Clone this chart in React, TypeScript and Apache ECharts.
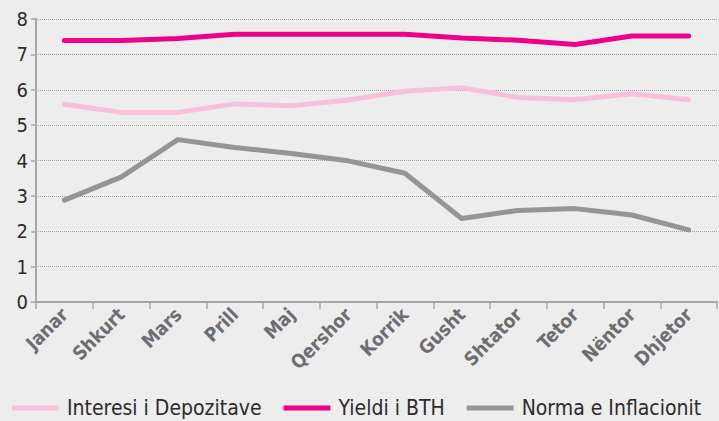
import React, { useEffect, useRef } from "react";
import * as echarts from "echarts";

const months = ["Janar", "Shkurt", "Mars", "Prill", "Maj", "Qershor", "Korrik", "Gusht", "Shtator", "Tetor", "Nëntor", "Dhjetor"];
const interesi = [5.59, 5.36, 5.36, 5.6, 5.55, 5.71, 5.96, 6.06, 5.78, 5.72, 5.89, 5.72];
const yieldi = [7.39, 7.39, 7.45, 7.57, 7.57, 7.57, 7.57, 7.46, 7.4, 7.28, 7.52, 7.52];
const inflacioni = [2.88, 3.53, 4.59, 4.37, 4.2, 3.99, 3.64, 2.36, 2.59, 2.64, 2.46, 2.04];
const yTicks = { min: 0, max: 8, interval: 1 };

const FONT = "DejaVu Sans Condensed";

export default function App() {
  const ref = useRef<HTMLDivElement>(null);
  useEffect(() => {
    if (!ref.current) return;
    const chart = echarts.init(ref.current, null, { renderer: "svg" });
    const lineSeries = (name: string, data: number[], color: string) => ({
      name,
      type: "line",
      data,
      symbol: "none",
      lineStyle: { color, width: 5, cap: "round", join: "round" },
      itemStyle: { color },
    });
    chart.setOption({
      animation: false,
      backgroundColor: "#EDEDED",
      textStyle: { fontFamily: FONT },
      grid: { left: 36, right: 2, top: 19, bottom: 119, containLabel: false },
      legend: {
        left: 12,
        top: 397,
        padding: 0,
        icon: "rect",
        itemWidth: 47,
        itemHeight: 5,
        itemGap: 22,
        textStyle: { fontFamily: FONT, fontSize: 21, lineHeight: 22, color: "#2B2B2B", padding: [0, 0, 0, 3] },
        data: ["Interesi i Depozitave", "Yieldi i BTH", "Norma e Inflacionit"],
      },
      xAxis: {
        type: "category",
        data: months,
        boundaryGap: true,
        axisLine: { show: true, lineStyle: { color: "#A6A6A6", width: 2 } },
        axisTick: { show: true, length: 7, lineStyle: { color: "#A6A6A6", width: 1.5 } },
        axisLabel: { rotate: 45, fontFamily: FONT, fontSize: 19, fontWeight: "bold", color: "#6D6E71", margin: 9 },
      },
      yAxis: {
        type: "value",
        min: yTicks.min,
        max: yTicks.max,
        interval: yTicks.interval,
        axisLine: { show: true, lineStyle: { color: "#A6A6A6", width: 2 } },
        axisTick: { show: true, length: 5, lineStyle: { color: "#A6A6A6", width: 1.5 } },
        axisLabel: { fontFamily: FONT, fontSize: 20, color: "#2B2B2B", margin: 8 },
        splitLine: { show: true, lineStyle: { color: "#A0A0A0", type: "dotted", width: 1 } },
      },
      series: [
        lineSeries("Interesi i Depozitave", interesi, "#F8C0DA"),
        lineSeries("Yieldi i BTH", yieldi, "#EC008C"),
        lineSeries("Norma e Inflacionit", inflacioni, "#939598"),
      ],
    });
    return () => chart.dispose();
  }, []);
  return <div ref={ref} style={{ position: "fixed", left: 0, top: 0, width: 719, height: 421 }} />;
}
